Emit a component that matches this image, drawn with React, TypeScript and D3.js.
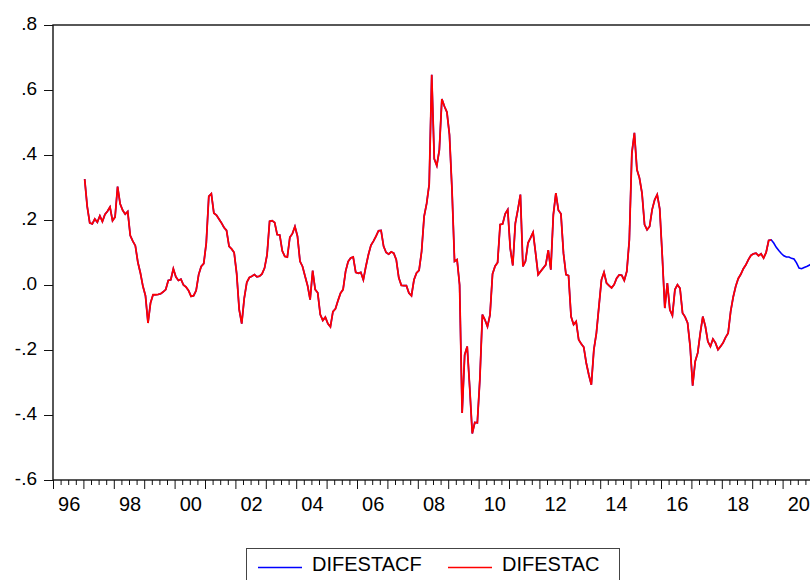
import React, { useEffect, useRef } from 'react'
import * as d3 from 'd3'

// monthly observations, first one is 1997M01
const firstYear = 1997

const difestac = [
  0.326, 0.242, 0.191, 0.188, 0.203, 0.193, 0.213, 0.195, 0.217, 0.227, 0.240, 0.198,
  0.209, 0.303, 0.250, 0.230, 0.218, 0.226, 0.152, 0.135, 0.121, 0.070, 0.037, -0.004,
  -0.033, -0.117, -0.055, -0.030, -0.030, -0.029, -0.027, -0.021, -0.014, 0.014, 0.016, 0.050,
  0.025, 0.014, 0.018, 0.000, -0.006, -0.017, -0.035, -0.033, -0.017, 0.032, 0.057, 0.066,
  0.129, 0.273, 0.281, 0.221, 0.215, 0.203, 0.191, 0.177, 0.168, 0.119, 0.111, 0.100,
  0.035, -0.076, -0.119, -0.040, 0.008, 0.023, 0.027, 0.032, 0.025, 0.027, 0.034, 0.052,
  0.093, 0.196, 0.198, 0.192, 0.155, 0.154, 0.105, 0.088, 0.086, 0.147, 0.158, 0.180,
  0.150, 0.073, 0.057, 0.027, -0.002, -0.045, 0.044, -0.014, -0.024, -0.091, -0.109, -0.099,
  -0.119, -0.129, -0.082, -0.073, -0.048, -0.025, -0.014, 0.042, 0.072, 0.083, 0.086, 0.039,
  0.036, 0.039, 0.016, 0.057, 0.093, 0.122, 0.135, 0.150, 0.167, 0.168, 0.119, 0.100,
  0.095, 0.102, 0.098, 0.078, 0.022, -0.001, -0.002, -0.002, -0.025, -0.033, 0.016, 0.037,
  0.045, 0.103, 0.211, 0.251, 0.310, 0.647, 0.388, 0.367, 0.416, 0.572, 0.550, 0.532,
  0.462, 0.293, 0.073, 0.078, 0.000, -0.394, -0.215, -0.189, -0.317, -0.457, -0.423, -0.424,
  -0.290, -0.091, -0.107, -0.128, -0.092, 0.034, 0.058, 0.069, 0.186, 0.188, 0.219, 0.232,
  0.112, 0.060, 0.190, 0.232, 0.278, 0.057, 0.073, 0.129, 0.145, 0.162, 0.098, 0.032,
  0.042, 0.052, 0.062, 0.107, 0.047, 0.216, 0.283, 0.230, 0.219, 0.098, 0.032, 0.029,
  -0.097, -0.122, -0.112, -0.168, -0.181, -0.191, -0.240, -0.276, -0.307, -0.199, -0.148, -0.066,
  0.016, 0.039, 0.006, -0.002, -0.009, 0.001, 0.021, 0.031, 0.030, 0.014, 0.042, 0.139,
  0.406, 0.468, 0.355, 0.329, 0.283, 0.186, 0.170, 0.180, 0.232, 0.262, 0.278, 0.234,
  0.090, -0.071, 0.006, -0.076, -0.094, -0.014, 0.001, -0.010, -0.086, -0.098, -0.117, -0.189,
  -0.310, -0.235, -0.209, -0.148, -0.097, -0.127, -0.174, -0.189, -0.166, -0.178, -0.199, -0.189,
  -0.178, -0.161, -0.148, -0.081, -0.037, -0.004, 0.020, 0.033, 0.050, 0.062, 0.078, 0.091,
  0.096, 0.098, 0.090, 0.096, 0.083, 0.100, 0.137, 0.139,
]

// forecast beyond the actuals (2019M09 - 2020M12)
const forecastTail = [
  0.129, 0.116, 0.106, 0.097,
  0.090, 0.086, 0.086, 0.082, 0.080, 0.068, 0.052, 0.050, 0.054, 0.057, 0.061, 0.065,
]

const difestacf = [...difestac, ...forecastTail]

const yTicks = [-0.6, -0.4, -0.2, 0, 0.2, 0.4, 0.6, 0.8]
const labelYears = [1996, 1998, 2000, 2002, 2004, 2006, 2008, 2010, 2012, 2014, 2016, 2018, 2020]
const yearLabels = ['96', '98', '00', '02', '04', '06', '08', '10', '12', '14', '16', '18', '20']
const seriesNames = ['DIFESTACF', 'DIFESTAC']

const FONT = 'Arial, "Liberation Sans", sans-serif'

function App() {
  const svgRef = useRef<SVGSVGElement>(null)

  useEffect(() => {
    const width = 810
    const height = 580
    const left = 53
    const right = 813
    const top = 25
    const bottom = 480

    const xScale = d3.scaleLinear().domain([1996, 2021]).range([left, right])
    const yScale = d3.scaleLinear().domain([-0.6, 0.8]).range([bottom, top])

    const toPoints = (vals: number[]) =>
      vals.map((v, k) => ({ t: firstYear + (k + 0.5) / 12, v }))

    const line = d3.line<{ t: number; v: number }>()
      .x((d) => xScale(d.t))
      .y((d) => yScale(d.v))

    const svg = d3.select(svgRef.current)
    svg.selectAll('*').remove()
    svg.attr('width', width).attr('height', height)

    // frame
    svg.append('rect')
      .attr('x', left).attr('y', top)
      .attr('width', right - left).attr('height', bottom - top)
      .attr('fill', 'none').attr('stroke', '#111').attr('stroke-width', 1.4)

    // y axis, eviews style ".2" / "-.2" with a plain hyphen
    const fmt = (d: number) => d3.format('.1f')(d).replace('\u2212', '-').replace('0.', '.')
    const yAxis = d3.axisLeft(yScale).tickValues(yTicks).tickSize(9).tickPadding(7).tickFormat(fmt as any)
    const gy = svg.append('g').attr('transform', `translate(${left},0)`).call(yAxis)
    gy.select('.domain').remove()
    gy.selectAll('line').attr('stroke', '#111')
    gy.selectAll('text')
      .attr('dy', '0.22em')
      .attr('fill', '#000')
      .style('font-family', FONT)
      .style('font-size', '19px')

    // x axis: yearly and quarterly ticks
    const years = d3.range(1996, 2022)
    const quarters = d3.range(1996, 2021.01, 0.25).filter((q) => q % 1 !== 0)
    const gxMinor = svg.append('g').attr('transform', `translate(0,${bottom})`)
      .call(d3.axisBottom(xScale).tickValues(quarters).tickSize(5).tickFormat(() => ''))
    const gxMajor = svg.append('g').attr('transform', `translate(0,${bottom})`)
      .call(d3.axisBottom(xScale).tickValues(years).tickSize(9).tickFormat(() => ''))
    gxMinor.select('.domain').remove()
    gxMajor.select('.domain').remove()
    svg.selectAll('.tick line').attr('stroke', '#111')

    svg.append('g')
      .selectAll('text')
      .data(labelYears)
      .join('text')
      .attr('x', (d) => xScale(d + 0.5) + 1)
      .attr('y', 511)
      .attr('text-anchor', 'middle')
      .attr('fill', '#000')
      .style('font-family', FONT)
      .style('font-size', '20px')
      .text((d, i) => yearLabels[i])

    // series: forecast underneath, actual on top
    svg.append('path')
      .attr('d', line(toPoints(difestacf)))
      .attr('fill', 'none')
      .attr('stroke', '#0000ff')
      .attr('stroke-width', 1.6)

    svg.append('path')
      .attr('d', line(toPoints(difestac)))
      .attr('fill', 'none')
      .attr('stroke', '#ff0000')
      .attr('stroke-width', 1.8)

    // legend
    const lg = svg.append('g')
    lg.append('rect')
      .attr('x', 246.5).attr('y', 548.5).attr('width', 373).attr('height', 40)
      .attr('fill', '#fff').attr('stroke', '#444').attr('stroke-width', 1)
    const entries = [
      { name: seriesNames[0], color: '#0000ff', x: 258 },
      { name: seriesNames[1], color: '#ff0000', x: 448 },
    ]
    entries.forEach((e) => {
      lg.append('line')
        .attr('x1', e.x).attr('x2', e.x + 44)
        .attr('y1', 567.5).attr('y2', 567.5)
        .attr('stroke', e.color).attr('stroke-width', 1.5)
      lg.append('text')
        .attr('x', e.x + 54)
        .attr('y', 571)
        .attr('fill', '#000')
        .style('font-family', FONT)
        .style('font-size', '20px')
        .text(e.name)
    })
  }, [])

  return (
    <svg ref={svgRef} style={{ position: 'absolute', left: 0, top: 0, background: '#fff' }}></svg>
  )
}

export default App
